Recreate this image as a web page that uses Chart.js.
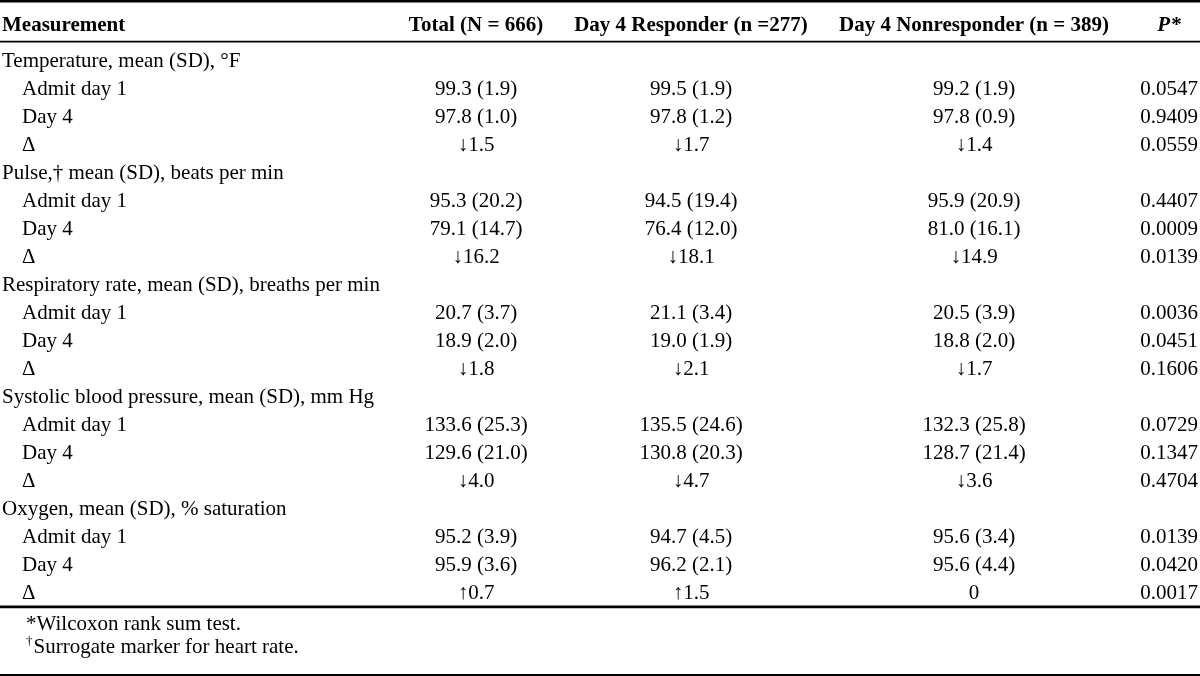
<!DOCTYPE html>
<html>
<head>
<meta charset="utf-8">
<script src="https://cdn.jsdelivr.net/npm/chart.js@4/dist/chart.umd.min.js"></script>
<style>
  html, body { margin: 0; padding: 0; background: #fff; }
  #wrap { width: 1200px; height: 676px; position: relative; }
</style>
</head>
<body>
<div id="wrap"><canvas id="vitalsTable"></canvas></div>
<script>
// ================================
// DATA
// ================================
const measures = [
  'Temperature, mean (SD), °F',
  'Pulse,† mean (SD), beats per min',
  'Respiratory rate, mean (SD), breaths per min',
  'Systolic blood pressure, mean (SD), mm Hg',
  'Oxygen, mean (SD), % saturation'
];
const timepoints = ['Admit day 1', 'Day 4', 'Δ'];

const columnHeaders = [
  'Total (N = 666)',
  'Day 4 Responder (n =277)',
  'Day 4 Nonresponder (n = 389)'
];

// one entry per measure x timepoint
const totalValues = [
  '99.3 (1.9)', '97.8 (1.0)', '↓1.5',
  '95.3 (20.2)', '79.1 (14.7)', '↓16.2',
  '20.7 (3.7)', '18.9 (2.0)', '↓1.8',
  '133.6 (25.3)', '129.6 (21.0)', '↓4.0',
  '95.2 (3.9)', '95.9 (3.6)', '↑0.7'
];
const responderValues = [
  '99.5 (1.9)', '97.8 (1.2)', '↓1.7',
  '94.5 (19.4)', '76.4 (12.0)', '↓18.1',
  '21.1 (3.4)', '19.0 (1.9)', '↓2.1',
  '135.5 (24.6)', '130.8 (20.3)', '↓4.7',
  '94.7 (4.5)', '96.2 (2.1)', '↑1.5'
];
const nonresponderValues = [
  '99.2 (1.9)', '97.8 (0.9)', '↓1.4',
  '95.9 (20.9)', '81.0 (16.1)', '↓14.9',
  '20.5 (3.9)', '18.8 (2.0)', '↓1.7',
  '132.3 (25.8)', '128.7 (21.4)', '↓3.6',
  '95.6 (3.4)', '95.6 (4.4)', '0'
];
const pValues = [
  '0.0547', '0.9409', '0.0559',
  '0.4407', '0.0009', '0.0139',
  '0.0036', '0.0451', '0.1606',
  '0.0729', '0.1347', '0.4704',
  '0.0139', '0.0420', '0.0017'
];

const footnotes = [
  { mark: '', text: '*Wilcoxon rank sum test.' },
  { mark: '†', text: 'Surrogate marker for heart rate.' }
];

// ================================
// LAYOUT / STYLE
// ================================
const FONT = '"Liberation Serif", "Times New Roman", serif';
const SIZE = 21;
const TEXT_SHIFT = 1; // canvas 'middle' sits a touch high for serif text
const LAYOUT = {
  groupX: 2,
  indentX: 22,
  footX: 26,
  colCenters: [476, 691, 974, 1169],
  headerRow: -1.25,
  footRows: [20.11, 20.96],
  rules: [
    { row: -2.1, width: 2.6 },
    { row: -0.655, width: 1.6 },
    { row: 19.53, width: 2.6 },
    { row: 21.96, width: 2 }
  ]
};

// ================================
// BUILD ROWS
// ================================
function buildRows() {
  const labels = [];
  const cellRows = []; // row index of each value cell
  let row = 0;
  measures.forEach(m => {
    labels.push({ text: m, x: LAYOUT.groupX, y: row++ });
    timepoints.forEach(t => {
      labels.push({ text: t, x: LAYOUT.indentX, y: row });
      cellRows.push(row++);
    });
  });
  return { labels, cellRows };
}

const { labels, cellRows } = buildRows();

function valueDataset(values, col) {
  return {
    data: cellRows.map(r => ({ x: LAYOUT.colCenters[col], y: r })),
    cells: values,
    cellAlign: 'center',
    pointRadius: 0
  };
}

// ================================
// TABLE PLUGIN
// ================================
const tablePlugin = {
  id: 'tableText',
  afterDatasetsDraw(chart) {
    const { ctx, scales: { x, y } } = chart;
    ctx.save();
    ctx.fillStyle = '#000';
    ctx.strokeStyle = '#000';
    ctx.textBaseline = 'middle';

    // body cells
    chart.data.datasets.forEach((ds, i) => {
      const meta = chart.getDatasetMeta(i);
      ctx.font = `${SIZE}px ${FONT}`;
      ctx.textAlign = ds.cellAlign;
      meta.data.forEach((pt, j) => ctx.fillText(ds.cells[j], pt.x, pt.y + TEXT_SHIFT));
    });

    // header
    const hy = y.getPixelForValue(LAYOUT.headerRow) + TEXT_SHIFT;
    ctx.font = `bold ${SIZE}px ${FONT}`;
    ctx.textAlign = 'left';
    ctx.fillText('Measurement', x.getPixelForValue(LAYOUT.groupX), hy);
    ctx.textAlign = 'center';
    columnHeaders.forEach((h, i) => {
      ctx.fillText(h, x.getPixelForValue(LAYOUT.colCenters[i]), hy);
    });
    // P* : italic P + bold star
    const pc = x.getPixelForValue(LAYOUT.colCenters[3]);
    ctx.font = `italic bold ${SIZE}px ${FONT}`;
    const pw = ctx.measureText('P').width;
    ctx.font = `bold ${SIZE}px ${FONT}`;
    const sw = ctx.measureText('*').width;
    const px = pc - (pw + sw) / 2;
    ctx.textAlign = 'left';
    ctx.font = `italic bold ${SIZE}px ${FONT}`;
    ctx.fillText('P', px, hy);
    ctx.font = `bold ${SIZE}px ${FONT}`;
    ctx.fillText('*', px + pw + 1, hy);

    // footnotes
    footnotes.forEach((f, i) => {
      const fy = y.getPixelForValue(LAYOUT.footRows[i]) + TEXT_SHIFT;
      let fx = x.getPixelForValue(LAYOUT.footX);
      if (f.mark) {
        ctx.font = `${Math.round(SIZE * 0.62)}px ${FONT}`;
        ctx.fillText(f.mark, fx, fy - 6);
        fx += ctx.measureText(f.mark).width + 1;
      }
      ctx.font = `${SIZE}px ${FONT}`;
      ctx.fillText(f.text, fx, fy);
    });

    // horizontal rules
    LAYOUT.rules.forEach(r => {
      const ry = y.getPixelForValue(r.row);
      ctx.lineWidth = r.width;
      ctx.beginPath();
      ctx.moveTo(chart.chartArea.left, ry);
      ctx.lineTo(chart.chartArea.right, ry);
      ctx.stroke();
    });

    ctx.restore();
  }
};

// ================================
// CHART
// ================================
new Chart(document.getElementById('vitalsTable'), {
  type: 'scatter',
  data: {
    datasets: [
      {
        data: labels.map(l => ({ x: l.x, y: l.y })),
        cells: labels.map(l => l.text),
        cellAlign: 'left',
        pointRadius: 0
      },
      valueDataset(totalValues, 0),
      valueDataset(responderValues, 1),
      valueDataset(nonresponderValues, 2),
      valueDataset(pValues, 3)
    ]
  },
  options: {
    responsive: true,
    maintainAspectRatio: false,
    animation: false,
    events: [],
    layout: { padding: 0 },
    plugins: { legend: { display: false }, tooltip: { enabled: false } },
    scales: {
      x: { type: 'linear', min: 0, max: 1200, display: false },
      y: { type: 'linear', min: -2.143, max: 22.0, reverse: true, display: false }
    }
  },
  plugins: [tablePlugin]
});
</script>
</body>
</html>
